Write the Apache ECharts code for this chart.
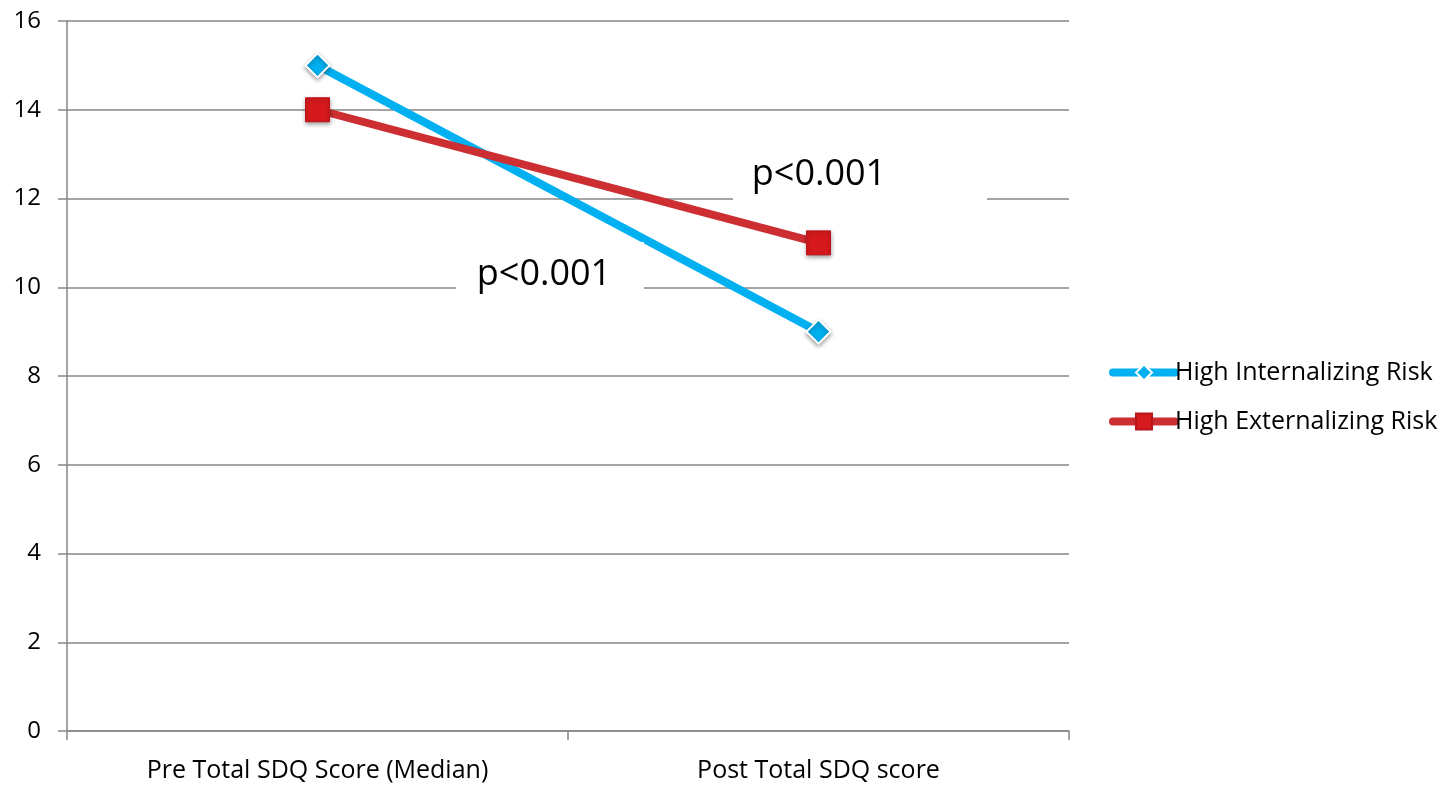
<!DOCTYPE html>
<html>
<head>
<meta charset="utf-8">
<script src="https://cdn.jsdelivr.net/npm/echarts@6/dist/echarts.min.js"></script>
<style>html,body{margin:0;padding:0;background:#fff;}#c{width:1446px;height:786px;}</style>
</head>
<body>
<div id="c"></div>
<script>
const categories = ['Pre Total SDQ Score (Median)', 'Post Total SDQ score'];
const internalizing = [15, 9];
const externalizing = [14, 11];
const seriesNames = ['High Internalizing Risk', 'High Externalizing Risk'];
const annotations = ['p<0.001', 'p<0.001'];

const FONT = '"Open Sans", "Noto Sans", sans-serif';
const chart = echarts.init(document.getElementById('c'), null, {renderer: 'canvas'});
chart.setOption({
  animation: false,
  backgroundColor: '#fff',
  textStyle: {fontFamily: FONT},
  grid: {left: 67, right: 377, top: 21, bottom: 55, containLabel: false},
  xAxis: {
    type: 'category',
    data: categories,
    boundaryGap: true,
    axisLine: {show: true, lineStyle: {color: '#868686', width: 1.5}},
    axisTick: {show: true, length: 9, alignWithLabel: false, lineStyle: {color: '#868686', width: 1.5}},
    axisLabel: {fontSize: 25, color: '#000', margin: 27, fontFamily: FONT},
    splitLine: {show: false}
  },
  yAxis: {
    type: 'value',
    min: 0, max: 16, interval: 2,
    axisLine: {show: true, lineStyle: {color: '#868686', width: 1.5}},
    axisTick: {show: true, length: 9, lineStyle: {color: '#868686', width: 1.5}},
    axisLabel: {fontSize: 24, color: '#000', margin: 26, fontFamily: FONT},
    splitLine: {show: true, lineStyle: {color: '#868686', width: 1.5}}
  },
  legend: {
    orient: 'vertical',
    left: 1104,
    top: 355,
    itemWidth: 62,
    itemHeight: 20,
    itemGap: 24,
    lineStyle: {width: 8, cap: 'round'},
    textStyle: {fontSize: 25, color: '#000', fontFamily: FONT, padding: [0, 0, 0, -5]},
    data: seriesNames
  },
  series: [
    {
      name: seriesNames[0],
      type: 'line',
      data: internalizing,
      symbol: 'diamond',
      symbolSize: 24,
      lineStyle: {color: '#00B0F0', width: 8},
      itemStyle: {color: '#00B0F0', borderColor: '#fff', borderWidth: 2, shadowBlur: 4, shadowColor: 'rgba(0,0,0,0.35)', shadowOffsetY: 2},
      z: 3
    },
    {
      name: seriesNames[1],
      type: 'line',
      data: externalizing,
      symbol: 'rect',
      symbolSize: 24,
      lineStyle: {color: '#CC2E32', width: 8},
      itemStyle: {color: '#D6191C', borderColor: '#B8141A', borderWidth: 1, shadowBlur: 4, shadowColor: 'rgba(0,0,0,0.35)', shadowOffsetY: 2},
      z: 4
    }
  ],
  graphic: [
    {
      type: 'rect', z: 100,
      shape: {x: 456, y: 242, width: 188, height: 66},
      style: {fill: '#fff'}
    },
    {
      type: 'text', z: 101,
      style: {x: 544, y: 275, text: annotations[0], font: '36px ' + FONT, fill: '#000', align: 'center', verticalAlign: 'middle'}
    },
    {
      type: 'rect', z: 100,
      shape: {x: 733, y: 150, width: 254, height: 58},
      style: {fill: '#fff'}
    },
    {
      type: 'text', z: 101,
      style: {x: 819, y: 175, text: annotations[1], font: '36px ' + FONT, fill: '#000', align: 'center', verticalAlign: 'middle'}
    }
  ]
});
</script>
</body>
</html>
